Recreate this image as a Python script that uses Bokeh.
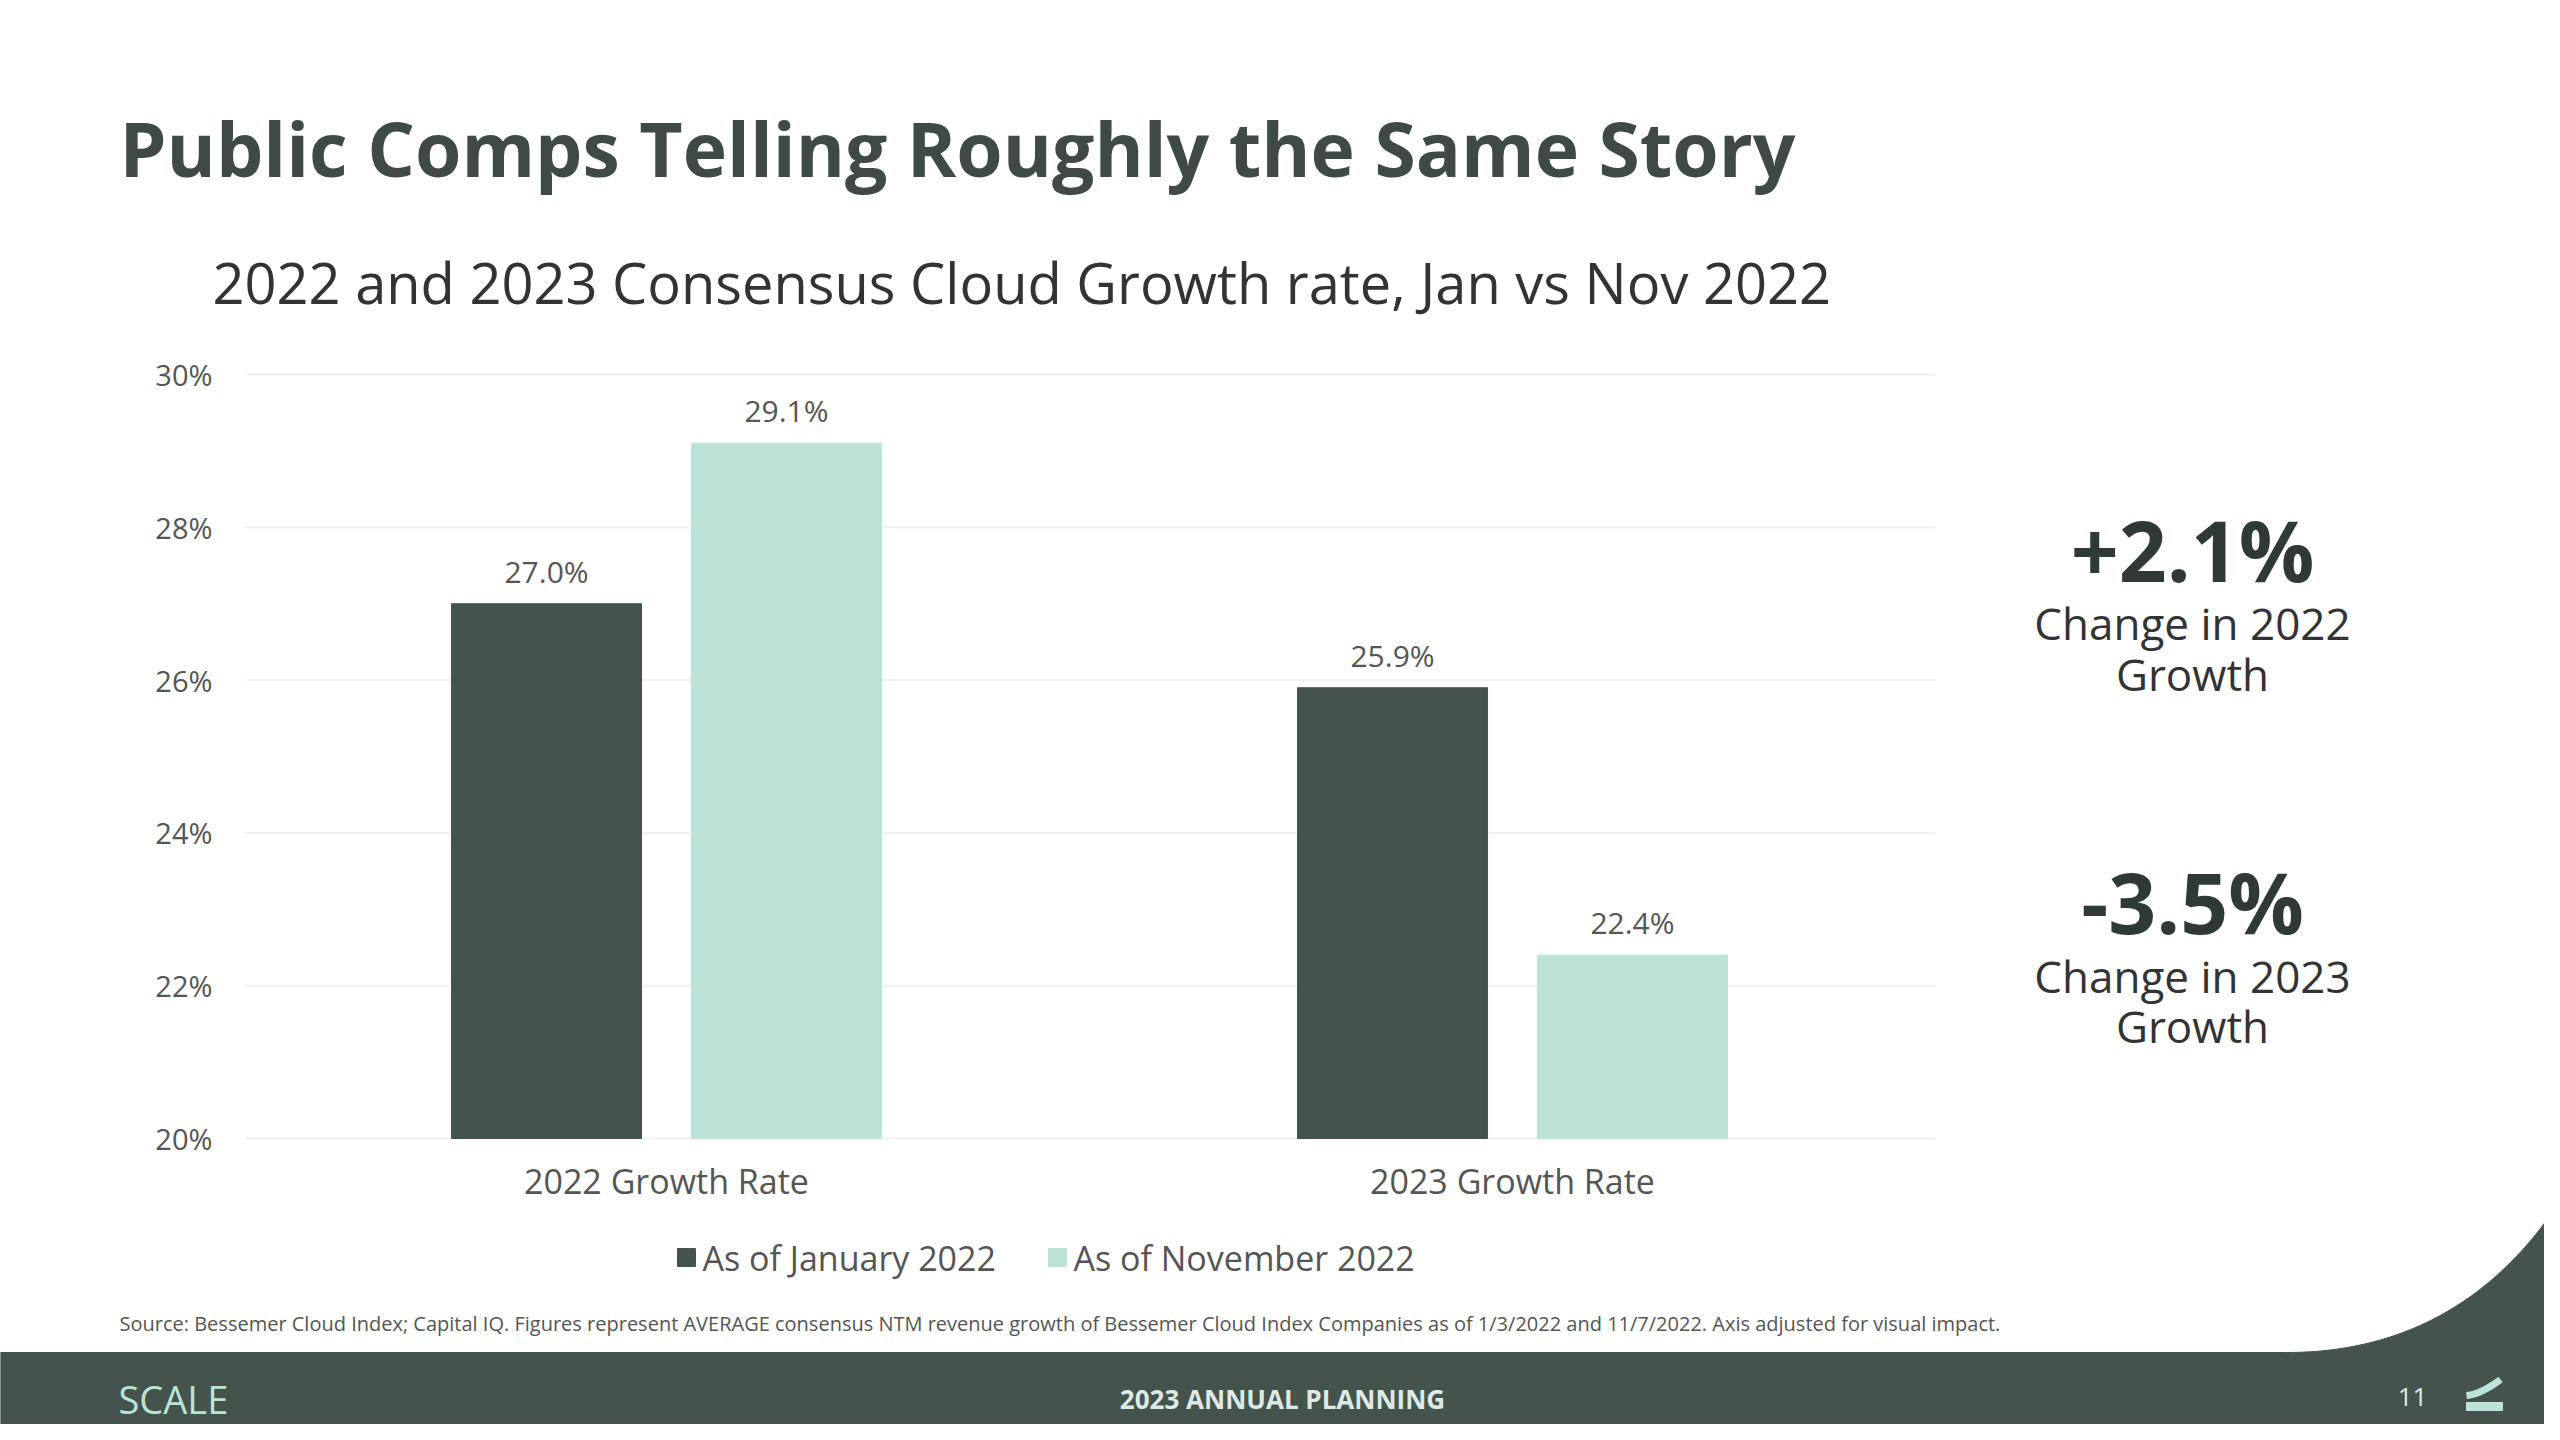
import numpy as np
from bokeh.plotting import figure
from bokeh.models import Range1d
from bokeh.core.properties import value
from bokeh.embed import file_html
from bokeh.resources import INLINE

groups = ["2022 Growth Rate", "2023 Growth Rate"]
series = ["As of January 2022", "As of November 2022"]
jan = [27.0, 25.9]
nov = [29.1, 22.4]
ticks = [20, 22, 24, 26, 28, 30]
tick_labels = ["20%", "22%", "24%", "26%", "28%", "30%"]

DARK = "#44544d"
LIGHT = "#bde3d9"
TXT = "#3f4a46"
F = value("Open Sans")

p = figure(width=2544, height=1424, x_range=Range1d(0, 2544), y_range=Range1d(1424, 0),
           output_backend="svg", toolbar_location=None, min_border=0)
p.axis.visible = False
p.grid.visible = False
p.outline_line_color = None
p.background_fill_color = "white"

# chart scales
p.extra_y_ranges = {"v": Range1d(30 + 374/76.4 - 1424/76.4, 30 + 374/76.4)}
p.extra_x_ranges = {"g": Range1d(-666/846, (2544-666)/846)}

# gridlines & ticks
gx0 = (245-666)/846; gx1 = (1935-666)/846
p.segment(x0=[gx0]*len(ticks), x1=[gx1]*len(ticks), y0=ticks, y1=ticks,
          x_range_name="g", y_range_name="v", line_color="#f0f0f0", line_width=2)
p.text(x=[(212-666)/846]*len(ticks), y=ticks, text=tick_labels, x_range_name="g", y_range_name="v",
       text_align="right", text_baseline="middle", text_font=F, text_font_size="29px", text_color="#555555")

off = 0.1418; w = 0.2246
xs = np.arange(len(groups))
p.vbar(x=xs-off, top=jan, bottom=20, width=w, x_range_name="g", y_range_name="v", color=DARK)
p.vbar(x=xs+off, top=nov, bottom=20, width=w, x_range_name="g", y_range_name="v", color=LIGHT)
p.text(x=list(xs-off)+list(xs+off), y=jan+nov, text=[f"{v:.1f}%" for v in jan+nov],
       x_range_name="g", y_range_name="v", y_offset=-12, text_align="center", text_baseline="bottom",
       text_font=F, text_font_size="30px", text_color="#555555")
p.text(x=list(xs), y=[19.45]*2, text=groups, x_range_name="g", y_range_name="v",
       text_align="center", text_baseline="middle", text_font=F, text_font_size="34px", text_color="#555555")

# legend
p.rect(x=[686, 1057], y=[1257, 1257], width=18, height=18, color=[DARK, LIGHT])
p.text(x=[702, 1073], y=[1257, 1257], text=series, text_baseline="middle",
       text_font=F, text_font_size="34px", text_color="#555555")

# titles
p.text(x=[119], y=[147], text=["Public Comps Telling Roughly the Same Story"], text_baseline="middle",
       text_font=F, text_font_size="75px", text_font_style="bold", text_color=TXT)
p.text(x=[212], y=[281], text=["2022 and 2023 Consensus Cloud Growth rate, Jan vs Nov 2022"],
       text_baseline="middle", text_font=F, text_font_size="56px", text_color="#333333")

# right callouts
p.text(x=[2192]*2, y=[549, 901], text=["+2.1%", "-3.5%"], text_align="center", text_baseline="middle",
       text_font=F, text_font_size="84px", text_font_style="bold", text_color="#2f3a36")
p.text(x=[2192]*4, y=[622, 673, 975, 1025], text=["Change in 2022", "Growth", "Change in 2023", "Growth"],
       text_align="center", text_baseline="middle", text_font=F, text_font_size="44px", text_color="#333333")

p.text(x=[119], y=[1323], text=["Source:  Bessemer Cloud Index; Capital IQ. Figures represent AVERAGE consensus NTM revenue growth of Bessemer Cloud Index Companies as of 1/3/2022 and 11/7/2022. Axis adjusted for visual impact."],
       text_baseline="middle", text_font=F, text_font_size="20px", text_color="#555555")

# footer band with curve
t = np.linspace(0, 1, 60)
cx = (1-t)**2*2286 + 2*(1-t)*t*2460 + t**2*2560
cy = (1-t)**2*1352 + 2*(1-t)*t*1352 + t**2*1200
px = [0] + list(cx) + [2560, 0]
py = [1352] + list(cy) + [1440, 1440]
p.patch(px, py, color=DARK)
p.text(x=[118], y=[1398], text=["SCALE"], text_baseline="middle", text_font=F, text_font_size="38px",
       text_color=LIGHT)
p.text(x=[1282], y=[1398], text=["2023 ANNUAL PLANNING"], text_align="center", text_baseline="middle",
       text_font=F, text_font_size="26px", text_font_style="bold", text_color="#dfe9e5")
p.text(x=[2412], y=[1396], text=["11"], text_align="center", text_baseline="middle", text_font=F,
       text_font_size="26px", text_color="#dfe9e5")
p.rect(x=[2484], y=[1406], width=36, height=8, color=LIGHT)
lt = np.linspace(0, 1, 20)
p.line(2466 + 34*lt, 1395 - 16*lt**1.6, line_color=LIGHT, line_width=7)

open("out.html", "w").write(file_html(p, INLINE))
